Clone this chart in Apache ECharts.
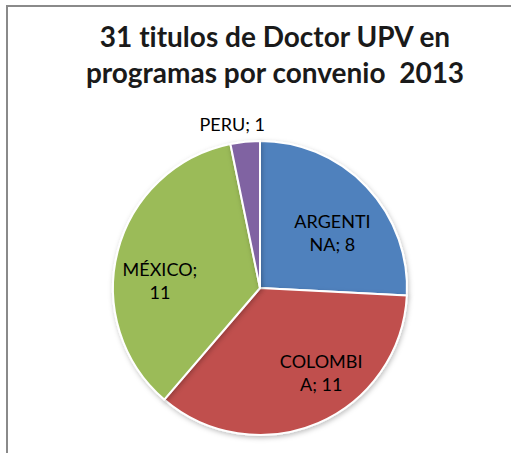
<!DOCTYPE html>
<html>
<head>
<meta charset="utf-8">
<script src="https://cdn.jsdelivr.net/npm/echarts@6/dist/echarts.min.js"></script>
<style>
  html, body { margin: 0; padding: 0; background: #fff; }
  #wrap { position: relative; width: 511px; height: 453px; }
  #chart { position: absolute; left: 0; top: 0; width: 511px; height: 453px; }
  #chart text { font-variant-ligatures: none; font-feature-settings: "liga" 0; }
  #frame { position: absolute; left: 6px; top: 5px; right: 0; bottom: 0;
           border-left: 2px solid #8a8a8a; border-top: 2px solid #8a8a8a; pointer-events: none; }
</style>
</head>
<body>
<div id="wrap">
  <div id="chart"></div>
  <div id="frame"></div>
</div>
<script>
// datos
const paises = ['ARGENTINA', 'COLOMBIA', 'MÉXICO', 'PERU']
const titulos = [8, 11, 11, 1]
// texto de etiqueta tal como sale partido en el original
const etiquetas = ['ARGENTI\nNA; 8', 'COLOMBI\nA; 11', 'MÉXICO;\n11', 'PERU; 1']
const colores = ['#4F81BD', '#C0504D', '#9BBB59', '#8064A2']

// desplazamiento de cada etiqueta respecto a la posicion 'inside'
const desplaz = [[17, -3], [31, 14], [-26, 12], [-20, -88]]

// svg para poder quitar las ligaduras de Lato ("ti")
const myChart = echarts.init(document.getElementById('chart'), null, { renderer: 'svg' })

const option = {
  title: {
    text: '31 titulos de Doctor UPV en\nprogramas por convenio  2013',
    left: 270,
    textAlign: 'center',
    top: 13,
    textStyle: {
      fontFamily: 'Lato',
      fontWeight: 'bold',
      fontSize: 28,
      lineHeight: 36,
      color: '#1a1a1a'
    }
  },
  color: colores,
  series: [
    {
      type: 'pie',
      center: [260, 288],
      radius: [0, 147],
      startAngle: 90,
      clockwise: true,
      animation: false,
      itemStyle: {
        borderColor: '#fff',
        borderWidth: 2,
        shadowBlur: 5,
        shadowColor: 'rgba(0,0,0,0.25)',
        shadowOffsetX: 1,
        shadowOffsetY: 2
      },
      label: {
        show: true,
        position: 'inside',
        formatter: p => etiquetas[p.dataIndex],
        color: '#000',
        fontFamily: 'Lato',
        fontSize: 18,
        lineHeight: 23,
        align: 'center'
      },
      labelLine: { show: false },
      labelLayout: p => ({ dx: desplaz[p.dataIndex][0], dy: desplaz[p.dataIndex][1] }),
      data: paises.map((n, i) => ({ name: n, value: titulos[i] }))
    }
  ]
}

myChart.setOption(option)
</script>
</body>
</html>
